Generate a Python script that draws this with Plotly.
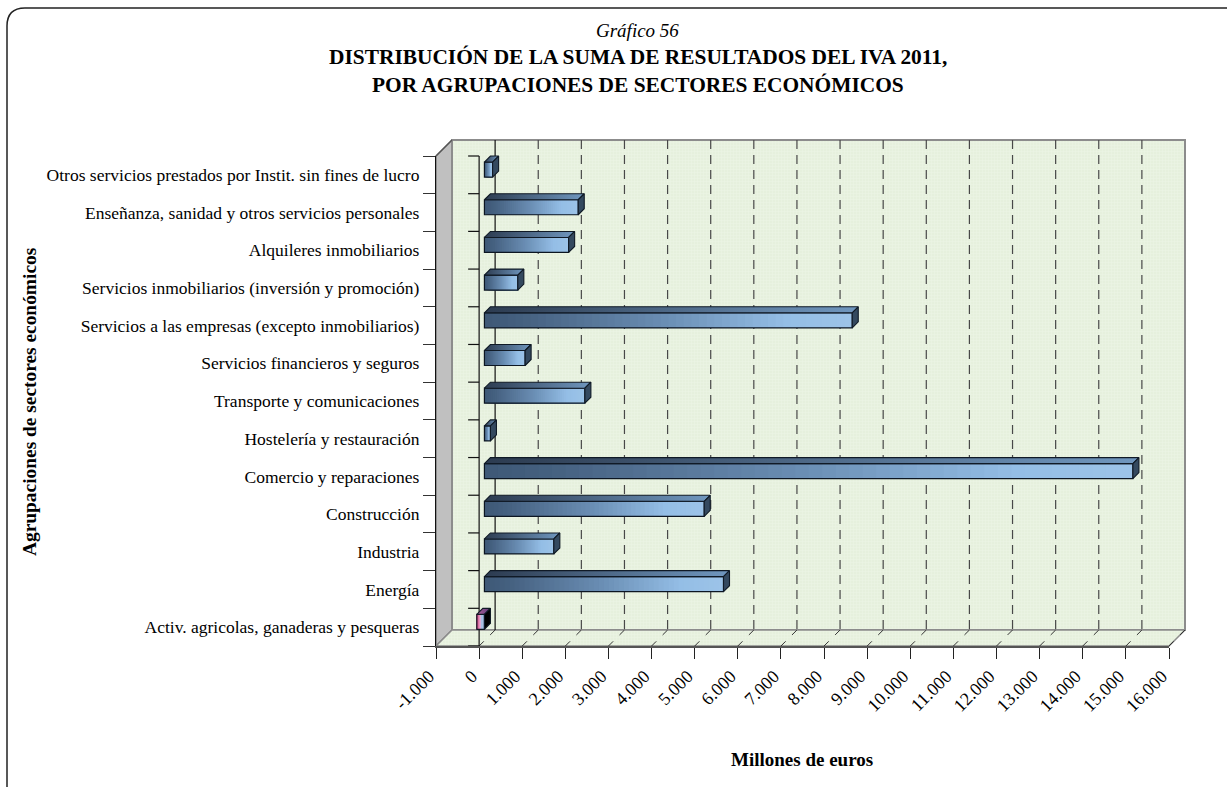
import plotly.graph_objects as go

W, H = 1227, 787

categories = [
    "Activ. agricolas, ganaderas y pesqueras",
    "Energía",
    "Industria",
    "Construcción",
    "Comercio y reparaciones",
    "Hostelería y restauración",
    "Transporte y comunicaciones",
    "Servicios financieros y seguros",
    "Servicios a las empresas (excepto inmobiliarios)",
    "Servicios inmobiliarios (inversión y promoción)",
    "Alquileres inmobiliarios",
    "Enseñanza, sanidad y otros servicios personales",
    "Otros servicios prestados por Instit. sin fines de lucro",
]
values = [-176, 5545, 1610, 5098, 15040, 140, 2330, 944, 8531, 775, 1953, 2176, 190]
x_ticks = list(range(-1000, 17000, 1000))
x_tick_labels = ["-1.000", "0", "1.000", "2.000", "3.000", "4.000", "5.000", "6.000", "7.000",
                 "8.000", "9.000", "10.000", "11.000", "12.000", "13.000", "14.000", "15.000", "16.000"]

# geometry of the pseudo-3D box (pixels)
PX_L, PX_R, PX_T, PX_B = 436.0, 1169.0, 156.0, 646.0
DEPTH = 16.0
BAR_D0, BAR_D1 = 5.3, 11.3
BAR_H = 15.0
UX = 17000.0 / (PX_R - PX_L)       # value units per pixel
PX_CAT = (PX_B - PX_T) / 13.0
UY = 1.0 / PX_CAT                  # category units per pixel
PX_ZERO = PX_L + 1000.0 / UX
XR = [-PX_ZERO * UX, (W - PX_ZERO) * UX]
YR = [-0.5 - (H - PX_B) * UY, -0.5 + PX_B * UY]
YMIN, YMAX = -0.5, 12.5
XMIN, XMAX = -1000, 16000


def X(v, d=0.0):
    return v + d * UX


def Y(c, d=0.0):
    return c + d * UY


def lerp(stops, t):
    for (t0, c0), (t1, c1) in zip(stops, stops[1:]):
        if t <= t1:
            f = (t - t0) / (t1 - t0)
            return "rgb(%d,%d,%d)" % tuple(round(a + (b - a) * f) for a, b in zip(c0, c1))
    return "rgb(%d,%d,%d)" % stops[-1][1]


BLUE = [(0, (62, 88, 118)), (0.12, (70, 98, 130)), (0.5, (107, 143, 181)), (0.82, (148, 190, 230)), (1, (157, 195, 232))]
PINK = [(0, (170, 200, 235)), (0.45, (170, 190, 225)), (0.55, (235, 170, 210)), (1, (210, 80, 140))]

fig = go.Figure()
skip = dict(hoverinfo="skip", showlegend=False)
wall_ax = dict(xaxis="x", yaxis="y")
bar_ax = dict(xaxis="x2", yaxis="y2")

# left wall
fig.add_trace(go.Scatter(
    x=[X(XMIN), X(XMIN, DEPTH), X(XMIN, DEPTH), X(XMIN), X(XMIN)],
    y=[Y(YMIN), Y(YMIN, DEPTH), Y(YMAX, DEPTH), Y(YMAX), Y(YMIN)],
    mode="lines", fill="toself", fillcolor="#c0c0c0", line=dict(color="#808080", width=1.5), **skip, **wall_ax))
# back wall
patt = dict(shape=".", bgcolor="#e3efda", fgcolor="#f3f8ee", size=3, solidity=0.5)
fig.add_trace(go.Scatter(
    x=[X(XMIN, DEPTH), X(XMAX, DEPTH), X(XMAX, DEPTH), X(XMIN, DEPTH), X(XMIN, DEPTH)],
    y=[Y(YMIN, DEPTH), Y(YMIN, DEPTH), Y(YMAX, DEPTH), Y(YMAX, DEPTH), Y(YMIN, DEPTH)],
    mode="lines", fill="toself", fillpattern=patt, fillcolor="#e3efda", line=dict(color="#8c8c8c", width=2), **skip, **wall_ax))
# floor
fig.add_trace(go.Scatter(
    x=[X(XMIN), X(XMIN, DEPTH), X(XMAX, DEPTH), X(XMAX), X(XMIN)],
    y=[Y(YMIN), Y(YMIN, DEPTH), Y(YMIN, DEPTH), Y(YMIN), Y(YMIN)],
    mode="lines", fill="toself", fillpattern=patt, fillcolor="#e3efda", line=dict(color="#8c8c8c", width=1.5), **skip, **wall_ax))

# gridlines on the back wall and the floor
gx, gy, fx, fy = [], [], [], []
for v in x_ticks:
    if v == XMIN:
        continue
    fx += [X(v, DEPTH), X(v), None]
    fy += [Y(YMIN, DEPTH), Y(YMIN), None]
    if v != 0 and v != XMAX:
        gx += [X(v, DEPTH), X(v, DEPTH), None]
        gy += [Y(YMAX, DEPTH), Y(YMIN, DEPTH), None]
fig.add_trace(go.Scatter(x=gx, y=gy, mode="lines", line=dict(color="#484848", width=1.2, dash="9px,6px"), **skip, **wall_ax))
fig.add_trace(go.Scatter(x=fx, y=fy, mode="lines", line=dict(color="#333333", width=1, dash="7px,9px"), **skip, **wall_ax))
# zero lines
fig.add_trace(go.Scatter(x=[X(0, DEPTH), X(0, DEPTH)], y=[Y(YMAX, DEPTH), Y(YMIN, DEPTH)],
                         mode="lines", line=dict(color="#111111", width=1.2), **skip, **wall_ax))
zx, zy = [X(0), X(0), None], [Y(YMAX), Y(YMIN), None]
for c in range(14):
    zx += [X(0), X(0) - 11 * UX, None]
    zy += [c - 0.5, c - 0.5, None]
fig.add_trace(go.Scatter(x=zx, y=zy, mode="lines", line=dict(color="#111111", width=1.2), **skip, **wall_ax))
# upper-left diagonal of the box
fig.add_trace(go.Scatter(x=[X(XMIN), X(XMIN, DEPTH)], y=[Y(YMAX), Y(YMAX, DEPTH)],
                         mode="lines", line=dict(color="#555555", width=1.2), **skip, **wall_ax))

# bars: gradient built from overlaid slices of each value, each reaching the bar's end
idx = list(range(len(categories)))
bar_y = [Y(c, BAR_D0) for c in idx]
N = 48
for k in range(N):
    t = (k + 0.5) / N
    fig.add_trace(go.Bar(
        y=bar_y, x=[v * (1 - k / N) for v in values], base=[X(v * k / N, BAR_D0) for v in values],
        orientation="h", width=BAR_H * UY,
        marker=dict(color=[lerp(PINK if v < 0 else BLUE, t) for v in values], line=dict(width=0)),
        **skip, **bar_ax))
fig.add_trace(go.Bar(
    y=bar_y, x=values, base=[X(0, BAR_D0)] * len(values), orientation="h", width=BAR_H * UY,
    marker=dict(color="rgba(0,0,0,0)", line=dict(color="#0c1622", width=1.2)),
    name="Millones de euros", hovertemplate="%{x}<extra></extra>", showlegend=False, **bar_ax))

# top and end faces of each bar
hb = BAR_H * UY / 2
for c, v in zip(idx, values):
    lo, hi = min(v, 0), max(v, 0)
    top0 = Y(c, BAR_D0) + hb
    bot0 = Y(c, BAR_D0) - hb
    dd = BAR_D1 - BAR_D0
    neg = v < 0
    fig.add_trace(go.Scatter(
        x=[X(lo, BAR_D0), X(hi, BAR_D0), X(hi, BAR_D1), X(lo, BAR_D1), X(lo, BAR_D0)],
        y=[top0, top0, top0 + dd * UY, top0 + dd * UY, top0],
        mode="lines", fill="toself",
        fillgradient=dict(type="horizontal", colorscale=[[0, "#b0609a" if neg else "#2c3b50"],
                                                          [1, "#5a3a78" if neg else "#7097bf"]]),
        line=dict(color="#101a26", width=1.1), **skip, **bar_ax))
    fig.add_trace(go.Scatter(
        x=[X(hi, BAR_D0), X(hi, BAR_D1), X(hi, BAR_D1), X(hi, BAR_D0), X(hi, BAR_D0)],
        y=[top0, top0 + dd * UY, bot0 + dd * UY, bot0, top0],
        mode="lines", fill="toself", fillcolor="#000000" if neg else "#34495f",
        line=dict(color="#101a26", width=1.1), **skip, **bar_ax))

# visible axes on the front plane
fig.add_trace(go.Scatter(x=[XMIN, XMAX], y=[YMIN, YMAX], mode="none", xaxis="x3", yaxis="y3", **skip))

font = "Liberation Serif"
fig.update_layout(
    width=W, height=H, margin=dict(l=0, r=0, t=0, b=0, autoexpand=False),
    paper_bgcolor="white", plot_bgcolor="rgba(0,0,0,0)",
    barmode="overlay", showlegend=False, font=dict(family=font, color="#000000"),
    xaxis=dict(domain=[0, 1], range=XR, visible=False, fixedrange=True),
    yaxis=dict(domain=[0, 1], range=YR, visible=False, fixedrange=True),
    xaxis2=dict(domain=[0, 1], range=XR, visible=False, overlaying="x", anchor="y2", fixedrange=True),
    yaxis2=dict(domain=[0, 1], range=YR, visible=False, overlaying="y", anchor="x2", fixedrange=True),
    xaxis3=dict(domain=[PX_L / W, PX_R / W], range=[XMIN, XMAX], anchor="y3",
                tickmode="array", tickvals=x_ticks, ticktext=x_tick_labels, tickangle=-45,
                ticks="outside", ticklen=11, tickcolor="#222222", tickwidth=1.2,
                tickfont=dict(family=font, size=18, color="#000000"), ticklabelshift=-7,
                showline=True, linecolor="#555555", linewidth=1.5, showgrid=False, zeroline=False,
                automargin=False, fixedrange=True),
    yaxis3=dict(domain=[1 - PX_B / H, 1 - PX_T / H], range=[YMIN, YMAX], anchor="x3",
                tickmode="array", tickvals=idx, ticktext=categories,
                ticks="outside", ticklen=12, tickcolor="rgba(0,0,0,0)",
                minor=dict(tickmode="array", tickvals=[c - 0.5 for c in range(14)], ticks="outside",
                           ticklen=12, tickcolor="#333333", tickwidth=1.2),
                tickfont=dict(family=font, size=17.5, color="#000000"),
                showline=True, linecolor="#111111", linewidth=1.2, showgrid=False, zeroline=False,
                automargin=False, fixedrange=True),
    shapes=[dict(type="path", xref="paper", yref="paper", layer="below",
                 path="M %f,%f L %f,%f Q %f,%f %f,%f L %f,%f" % (
                     7 / W, 0, 7 / W, 1 - 26 / H, 7 / W, 1 - 8 / H, 25 / W, 1 - 8 / H, 1, 1 - 8 / H),
                 line=dict(color="#222222", width=1.5))],
    annotations=[
        dict(text="<i>Gráfico 56</i>", x=637 / W, y=1 - 30 / H, xref="paper", yref="paper", showarrow=False,
             font=dict(family=font, size=19), xanchor="center", yanchor="middle"),
        dict(text="<b>DISTRIBUCIÓN DE LA SUMA DE RESULTADOS DEL IVA 2011,</b>", x=638 / W, y=1 - 57 / H,
             xref="paper", yref="paper", showarrow=False, font=dict(family=font, size=21.4), xanchor="center", yanchor="middle"),
        dict(text="<b>POR AGRUPACIONES DE SECTORES ECONÓMICOS</b>", x=638 / W, y=1 - 85 / H,
             xref="paper", yref="paper", showarrow=False, font=dict(family=font, size=21.4), xanchor="center", yanchor="middle"),
        dict(text="<b>Agrupaciones de sectores económicos</b>", x=29 / W, y=1 - 402 / H, xref="paper", yref="paper",
             showarrow=False, textangle=-90, font=dict(family=font, size=19.4), xanchor="center", yanchor="middle"),
        dict(text="<b>Millones de euros</b>", x=802 / W, y=1 - 759 / H, xref="paper", yref="paper",
             showarrow=False, font=dict(family=font, size=19), xanchor="center", yanchor="middle"),
    ],
)

fig.write_html("out.html", config=dict(displayModeBar=False),
               post_script="document.body.style.margin='0';document.body.style.overflow='hidden';")
